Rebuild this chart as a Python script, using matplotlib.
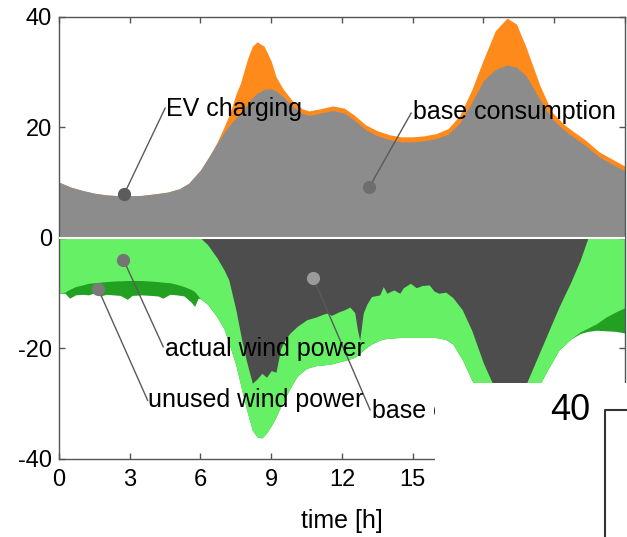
import numpy as np
import matplotlib
matplotlib.use("Agg")
import matplotlib.pyplot as plt
from matplotlib.patches import Rectangle
from matplotlib.lines import Line2D
from matplotlib.transforms import Bbox, TransformedBbox

plt.rcParams['font.family'] = ['Liberation Sans', 'DejaVu Sans']
plt.rcParams['axes.unicode_minus'] = False

# ---- upper half: consumption [MW] ----
t_top = [0.0, 0.5, 1.0, 1.5, 2.0, 2.7, 3.5, 4.1, 4.6, 5.1, 5.5, 6.0, 6.4, 6.7, 7.0,
         7.25, 7.5, 7.7, 8.0, 8.2, 8.4, 8.7, 9.0, 9.2, 9.5, 9.9, 10.3, 10.6, 11.1,
         11.6, 12.1, 12.5, 13.0, 13.5, 14.0, 14.5, 15.0, 15.5, 16.0, 16.5, 17.0,
         17.5, 18.0, 18.5, 19.0, 19.4, 19.8, 20.4, 20.9, 21.4, 21.8, 22.3, 22.9,
         23.4, 24.0]
base_cons = [10.1, 9.2, 8.6, 8.1, 7.8, 7.6, 7.7, 8.0, 8.3, 8.9, 9.9, 12.3, 15.0, 17.1,
             19.1, 20.5, 21.7, 22.6, 24.3, 25.4, 26.2, 26.9, 27.0, 26.6, 25.6, 23.9,
             22.6, 22.2, 22.6, 23.1, 22.6, 21.4, 19.6, 18.5, 17.8, 17.4, 17.4, 17.6,
             18.0, 18.8, 20.8, 24.5, 28.5, 30.5, 31.3, 30.9, 29.4, 25.0, 21.6, 19.6,
             18.3, 16.8, 14.7, 13.5, 12.1]
ev_charging = [0, 0, 0, 0, 0, 0, 0, 0, 0, 0, 0, 0, 0, 0.2, 1.0, 2.1, 4.3, 5.5, 8.2,
               9.3, 9.3, 7.8, 5.0, 2.6, 1.4, 0.9, 0.8, 0.8, 0.8, 0.8, 0.9, 0.9, 0.9,
               0.9, 0.9, 0.9, 0.9, 0.9, 0.9, 1.0, 1.4, 2.3, 3.8, 7.0, 8.5, 7.8, 5.2,
               2.5, 1.2, 1.0, 1.0, 1.0, 0.9, 0.9, 0.9]

# ---- lower half: wind power [MW], magnitudes drawn downwards ----
t_bot = [0.0, 0.25, 0.45, 0.7, 1.0, 1.25, 1.5, 1.75, 2.0, 2.3, 2.6, 2.9, 3.1, 3.5,
         3.9, 4.2, 4.4, 4.7, 5.0, 5.3, 5.6, 5.75, 5.9, 6.0, 6.3, 6.7, 7.0, 7.2, 7.5,
         7.75, 7.95, 8.2, 8.4, 8.6, 8.8, 9.0, 9.2, 9.4, 9.6, 9.8, 10.1, 10.5, 10.9,
         11.2, 11.35, 11.56, 11.9, 12.1, 12.33, 12.54, 12.65, 12.75, 12.9, 13.05,
         13.25, 13.6, 13.75, 13.9, 14.2, 14.45, 14.6, 14.9, 15.15, 15.4, 15.7, 15.9,
         16.1, 16.4, 16.7, 17.1, 17.5, 18.0, 18.4, 18.8, 19.2, 19.5, 19.8, 20.2,
         20.7, 21.2, 21.7, 22.1, 22.43, 22.8, 23.2, 23.6, 24.0]
wind_base = [0, 0, 0, 0, 0, 0, 0, 0, 0, 0, 0, 0, 0, 0, 0, 0, 0, 0, 0, 0, 0, 0, 0, 0,
             1.2, 3.6, 5.8, 7.6, 13.0, 18.5, 22.3, 26.3, 25.5, 24.5, 25.2, 24.0, 24.3,
             20.0, 18.3, 17.2, 16.0, 14.8, 14.3, 13.8, 13.6, 14.0, 13.3, 13.0, 12.5,
             13.5, 16.5, 18.5, 13.6, 12.0, 10.6, 10.3, 8.8, 10.0, 9.4, 10.0, 9.0,
             8.2, 9.0, 8.6, 8.5, 9.6, 10.0, 9.8, 10.8, 13.0, 16.7, 22.7, 26.5, 29.5,
             30.5, 29.0, 26.5, 22.5, 17.5, 12.5, 8.0, 4.0, 0, 0, 0, 0, 0]
wind_actual = [10.0, 9.8, 9.3, 8.8, 8.5, 8.2, 8.1, 8.0, 7.9, 7.8, 7.75, 7.7, 7.7, 7.7,
               7.8, 7.9, 8.0, 8.1, 8.4, 8.8, 9.3, 9.7, 10.5, 11.0, 12.0, 14.3, 16.5,
               19.0, 23.0, 27.5, 31.0, 34.8, 36.0, 36.2, 35.3, 34.0, 32.4, 30.5,
               28.8, 27.2, 25.0, 23.6, 23.1, 23.0, 22.9, 22.8, 22.4, 22.2, 21.9,
               21.6, 21.3, 20.9, 20.3, 19.8, 19.2, 18.5, 18.3, 18.2, 18.1, 18.0, 18.0,
               18.0, 18.0, 18.0, 18.0, 18.0, 18.1, 18.4, 19.2, 22.0, 25.7, 30.0, 32.5,
               34.0, 34.0, 32.5, 30.5, 28.0, 24.0, 20.3, 18.3, 17.0, 16.3, 15.5, 14.3,
               13.4, 12.6]
wind_avail = [10.0, 10.0, 10.9, 10.3, 10.2, 10.3, 9.95, 10.5, 10.2, 10.3, 10.4, 11.1,
              10.4, 10.3, 10.4, 10.5, 10.9, 10.2, 10.3, 10.5, 11.6, 12.4, 10.9, 11.0,
              12.0, 14.3, 16.5, 19.0, 23.0, 27.5, 31.0, 34.8, 36.0, 36.2, 35.3, 34.0,
              32.4, 30.5, 28.8, 27.2, 25.0, 23.6, 23.1, 23.0, 22.9, 22.8, 22.4, 22.2,
              21.9, 21.6, 21.3, 20.9, 20.3, 19.8, 19.2, 18.5, 18.3, 18.2, 18.1, 18.0,
              18.0, 18.0, 18.0, 18.0, 18.0, 18.0, 18.1, 18.4, 19.2, 22.0, 25.7, 30.0,
              32.5, 34.0, 34.0, 32.5, 30.5, 28.0, 24.0, 20.3, 18.3, 17.3, 16.9, 16.7,
              16.8, 16.9, 17.2]

xtick_labels = ['0', '3', '6', '9', '12', '15', '', '', '']

# labels: (text, dot position, line end, text position)
labels = [
    ("EV charging", (2.77, 8.0), (4.50, 23.5), (4.54, 22.1)),
    ("base consumption", (13.16, 9.2), (14.93, 22.6), (15.01, 21.5)),
    ("actual wind power", (2.73, -3.9), (4.42, -19.7), (4.50, -21.4)),
    ("unused wind power", (1.67, -9.3), (3.76, -29.4), (3.77, -30.6)),
    ("base c", (10.79, -7.3), (13.19, -31.1), (13.27, -32.6)),
]
dot_colors = ['#5c5c5c', '#6e6e6e', '#747474', '#7a7a7a', '#9a9a9a']

fig = plt.figure(figsize=(6.27, 5.37), dpi=100)
ax = fig.add_axes([0.0941, 0.1453, 0.9027, 0.8231])

tt = np.array(t_top)
base = np.array(base_cons)
total = base + np.array(ev_charging)
ax.fill_between(tt, 0, total, color='#ff8a1c', lw=0)
ax.fill_between(tt, 0, base, color='#8c8c8c', lw=0)

tb = np.array(t_bot)
ax.fill_between(tb, 0, -np.array(wind_avail), color='#22a022', lw=0)
ax.fill_between(tb, 0, -np.array(wind_actual), color='#66f066', lw=0)
ax.fill_between(tb, 0, -np.array(wind_base), color='#4d4d4d', lw=0)
ax.axhline(0, color='white', lw=1.5, zorder=3)

# the neighbouring panel covers the figure from x=435 px on, below y=383 px
cover_x = 435 / 627
clip = TransformedBbox(Bbox([[0, 0], [cover_x, 1]]), fig.transFigure)

for (txt, dot, lend, tpos), c in zip(labels, dot_colors):
    ax.plot([dot[0], lend[0]], [dot[1], lend[1]], color='#5a5a5a', lw=1.0, zorder=4)
    ax.plot(dot[0], dot[1], 'o', color=c, ms=9.5, mec='none', zorder=5)
    t = ax.text(tpos[0], tpos[1], txt, fontsize=18, ha='left', va='baseline', zorder=6)
    if txt == "base c":
        t.set_clip_box(clip)
        t.set_clip_on(True)

ax.set_xlim(0, 24)
ax.set_ylim(-40, 40)
ax.set_xticks(range(0, 25, 3))
ax.set_xticklabels(xtick_labels)
ax.set_yticks([-40, -20, 0, 20, 40])
ax.tick_params(direction='in', top=True, right=True, length=4, width=1,
               color='#555555', labelsize=17)
ax.tick_params(axis='x', pad=7)
ax.tick_params(axis='y', pad=5)
for s in ax.spines.values():
    s.set_color('#555555')
    s.set_linewidth(1.0)
ax.set_xlabel('time [h]', fontsize=18, labelpad=13)

fig.add_artist(Rectangle((cover_x, 0), 1 - cover_x, (537 - 383) / 537,
                         transform=fig.transFigure, facecolor='white',
                         edgecolor='none', zorder=10))
fig.text(590 / 627, (537 - 411) / 537, '40', fontsize=26, ha='right', va='center',
         zorder=11)
fig.add_artist(Line2D([605 / 627, 605 / 627, 1.0],
                      [0, (537 - 410) / 537, (537 - 410) / 537],
                      transform=fig.transFigure, color='#333333', lw=1.5, zorder=11))

fig.savefig('out.png', dpi=100)
